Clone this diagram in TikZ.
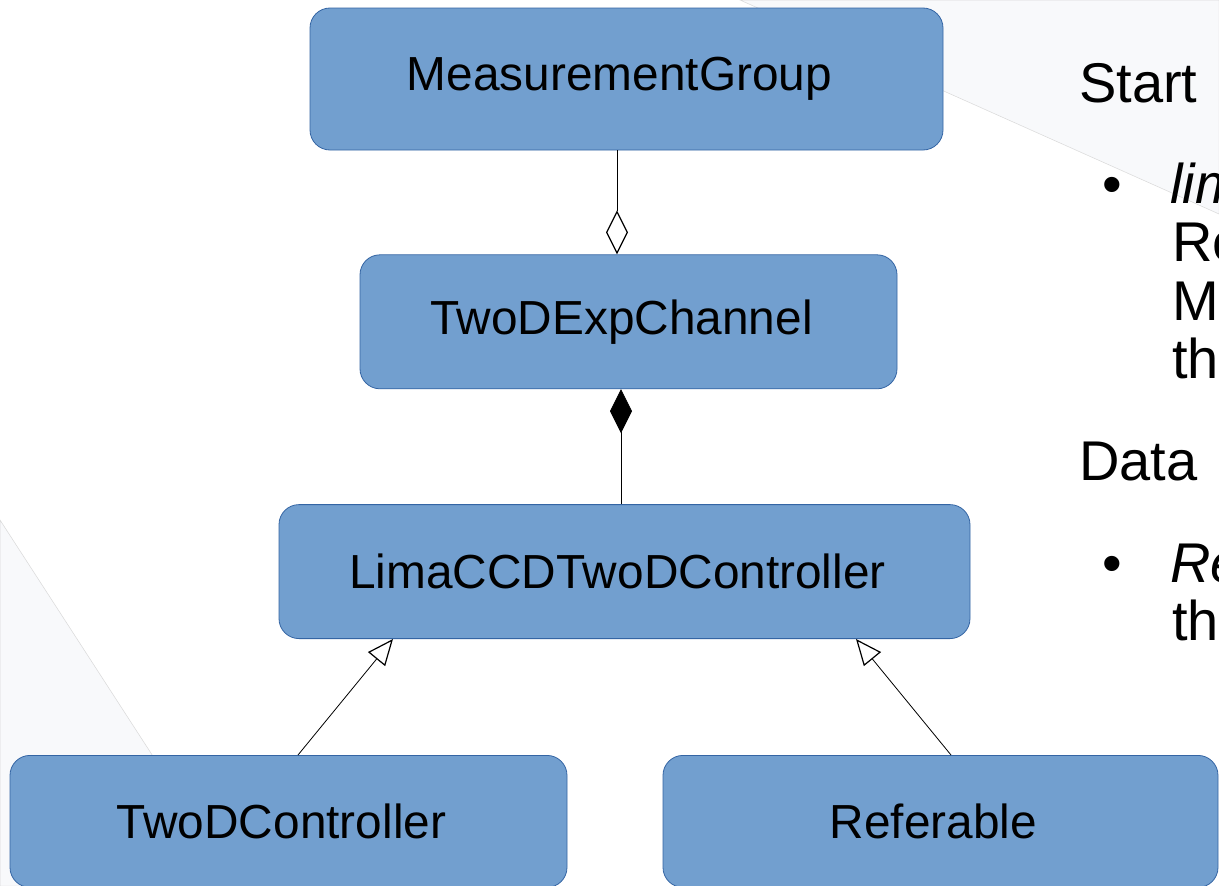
\documentclass[tikz,border=0pt]{standalone}
\usepackage{fontspec}
\setmainfont{Liberation Sans}
\usetikzlibrary{arrows.meta,positioning}
\definecolor{boxblue}{HTML}{729FCF}
\definecolor{boxedge}{HTML}{3465A4}
\definecolor{slidegrey}{HTML}{F8F9FB}

\begin{document}
\begin{tikzpicture}[x=1pt, y=-1pt,
      cls/.style={draw=boxedge, line width=.8pt, rounded corners=20pt, fill=boxblue,
        minimum height=134pt, inner sep=0pt, execute at begin node={\kern-14pt},
        font=\fontsize{47.8}{56}\selectfont},
      slide/.style={inner sep=0pt, anchor=base west, font=\fontsize{56}{66}\selectfont},
      agg/.style={-{Diamond[open, length=44pt, width=22pt, line width=1.2pt]}, line width=.8pt},
      comp/.style={-{Diamond[length=44pt, width=22pt]}, line width=.8pt},
      inh/.style={-{Triangle[open, length=26pt, width=22pt, line width=1.2pt]}, line width=.8pt}
    ]
      \useasboundingbox (0,0) rectangle (1219,886);
      \clip (0,0) rectangle (1219,886);
      % slide background
      \fill[white] (0,0) rectangle (1219,886);
      \filldraw[fill=slidegrey, draw=black!15, line width=.5pt] (740,0) -- (1219,0) -- (1219,214) -- cycle;
      \filldraw[fill=slidegrey, draw=black!15, line width=.5pt] (0,520) -- (237,886) -- (0,886) -- cycle;

      \node[cls, minimum width=633pt, minimum height=142pt] (mg) at (626.5,79) {MeasurementGroup};
      \node[cls, minimum width=537pt, below=104pt of mg, xshift=2pt] (tde) {TwoDExpChannel};
      \node[cls, minimum width=691pt, below=115pt of tde, xshift=-4pt] (lcc) {LimaCCDTwoDController};
      \node[cls, minimum width=557pt, minimum height=132pt, below=116pt of lcc, xshift=-336pt] (tdc) {TwoDController};
      \node[cls, minimum width=555pt, minimum height=132pt, below=116pt of lcc, xshift=316pt] (ref) {Referable};

      \draw[agg] ([xshift=-9.5pt]mg.south) -- ([xshift=-9.5pt]mg.south |- tde.north);
      \draw[comp] ([xshift=-3.5pt]lcc.north) -- ([xshift=-3.5pt]lcc.north |- tde.south);
      \draw[inh] ([xshift=9.5pt]tdc.north) -- ([xshift=-231.5pt]lcc.south);
      \draw[inh] ([xshift=10.5pt]ref.north) -- ([xshift=231.5pt]lcc.south);

      % slide text, cut at the right edge
      \node[slide] (start) at (1079,102) {Start};
      \node[slide] (bul1) at (1102,203) {\textbullet};
      \node[slide] (lim) at (1170,203) {\itshape lim};
      \node[slide] (re1) at (1172,261) {Re};
      \node[slide] (m1) at (1172,320) {M};
      \node[slide] (th1) at (1172,378) {th};
      \node[slide] (data) at (1079,480) {Data};
      \node[slide] (bul2) at (1102,582) {\textbullet};
      \node[slide] (re2) at (1170,582) {\itshape Re};
      \node[slide] (th2) at (1172,640) {th};
    \end{tikzpicture}
\end{document}
